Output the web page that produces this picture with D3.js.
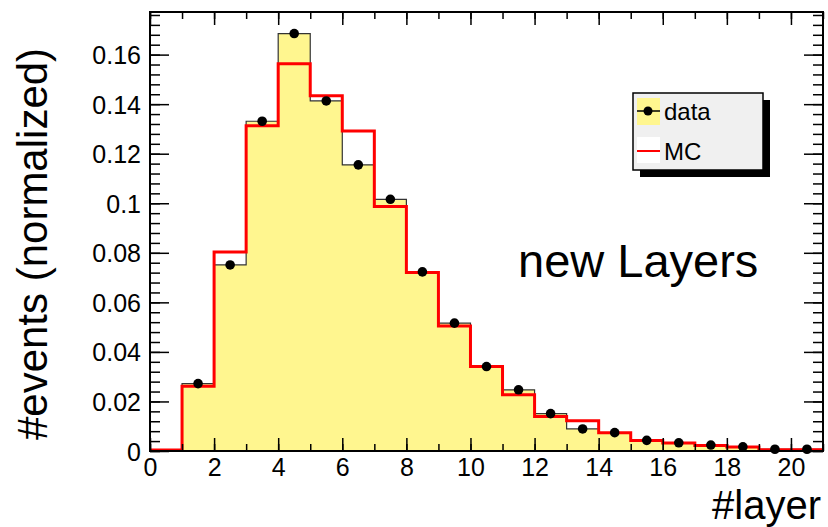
<!DOCTYPE html>
<html>
<head>
<meta charset="utf-8">
<script src="https://cdn.jsdelivr.net/npm/d3@7"></script>
<style>
  body { margin: 0; background: #fff; }
  svg { font-family: "Liberation Sans", Arial, sans-serif; }
</style>
</head>
<body>
<svg id="canvas" width="828" height="527"></svg>
<script>
// bins of width 1 from 0 to 21
let binEdges = d3.range(0, 22);
let dataValues = [0, 0.0272, 0.0751, 0.1331, 0.1685, 0.1413, 0.1155, 0.1016, 0.0723,
  0.0516, 0.0341, 0.0247, 0.0151, 0.0089, 0.0074, 0.0043, 0.0033, 0.0024, 0.0017, 0.0007, 0.0007];
let mcValues = [0.0004, 0.0261, 0.0803, 0.1313, 0.1563, 0.1434, 0.1292, 0.0987, 0.0721,
  0.0505, 0.0341, 0.0227, 0.0139, 0.0122, 0.0074, 0.0042, 0.0032, 0.0022, 0.0016, 0.0005, 0.0005];
let xTickValues = [0, 2, 4, 6, 8, 10, 12, 14, 16, 18, 20];
let yTickValues = [0, 0.02, 0.04, 0.06, 0.08, 0.1, 0.12, 0.14, 0.16];
let yTickLabels = ["0", "0.02", "0.04", "0.06", "0.08", "0.1", "0.12", "0.14", "0.16"];

let svg = d3.select("#canvas");

let padLeft = 150, padRight = 823, padTop = 12, padBottom = 451;

let x = d3.scaleLinear().domain([0, 21]).range([padLeft, padRight]);
let y = d3.scaleLinear().domain([0, 0.1772]).range([padBottom, padTop]);

// step points: one per bin start, plus the closing edge
let stepPoints = (values) => {
  let pts = values.map((v, i) => [binEdges[i], v]);
  pts.push([binEdges[binEdges.length - 1], values[values.length - 1]]);
  return pts;
};

let area = d3.area()
  .x(d => x(d[0]))
  .y0(y(0))
  .y1(d => y(d[1]))
  .curve(d3.curveStepAfter);

let line = d3.line()
  .x(d => x(d[0]))
  .y(d => y(d[1]))
  .curve(d3.curveStepAfter);

// data histogram filled
svg.append("path")
  .attr("d", area(stepPoints(dataValues)))
  .attr("fill", "#fff68f")
  .attr("stroke", "none");

svg.append("path")
  .attr("d", line(stepPoints(dataValues)))
  .attr("fill", "none")
  .attr("stroke", "#333")
  .attr("stroke-width", 1.2);

// MC histogram
svg.append("path")
  .attr("d", line(stepPoints(mcValues)))
  .attr("fill", "none")
  .attr("stroke", "#ff0000")
  .attr("stroke-width", 3);

// data points
svg.selectAll("circle.pt")
  .data(dataValues.map((v, i) => ({ c: binEdges[i] + 0.5, v: v })).filter(d => d.v > 0))
  .enter()
  .append("circle")
  .attr("class", "pt")
  .attr("cx", d => x(d.c))
  .attr("cy", d => y(d.v))
  .attr("r", 4.8)
  .attr("fill", "#000");

// axes, ticks pointing inward
let yMinor = d3.range(0, 0.1771, 0.004);
let xMinor = d3.range(0, 22, 1);

let styleAxis = (g) => {
  g.select(".domain").remove();
  g.selectAll(".tick line").attr("stroke", "#000").attr("stroke-width", 1.5);
  g.selectAll(".tick text").attr("fill", "#000").style("font-size", "25px");
};

svg.append("g").attr("transform", `translate(${padLeft},0)`)
  .call(d3.axisLeft(y).tickValues(yMinor).tickSize(-10).tickFormat(""))
  .call(styleAxis);
svg.append("g").attr("transform", `translate(${padLeft},0)`)
  .call(d3.axisLeft(y).tickValues(yTickValues).tickSize(-19).tickPadding(9)
    .tickFormat((d, i) => yTickLabels[i]))
  .call(styleAxis)
  .selectAll(".tick text").attr("dy", "0.36em");

svg.append("g").attr("transform", `translate(${padRight},0)`)
  .call(d3.axisRight(y).tickValues(yMinor).tickSize(-10).tickFormat(""))
  .call(styleAxis);
svg.append("g").attr("transform", `translate(${padRight},0)`)
  .call(d3.axisRight(y).tickValues(yTickValues).tickSize(-19).tickFormat(""))
  .call(styleAxis);

svg.append("g").attr("transform", `translate(0,${padBottom})`)
  .call(d3.axisBottom(x).tickValues(xMinor).tickSize(-7).tickFormat(""))
  .call(styleAxis);
svg.append("g").attr("transform", `translate(0,${padBottom})`)
  .call(d3.axisBottom(x).tickValues(xTickValues).tickSize(-13).tickPadding(7)
    .tickFormat(d3.format("d")))
  .call(styleAxis);

svg.append("g").attr("transform", `translate(0,${padTop})`)
  .call(d3.axisTop(x).tickValues(xMinor).tickSize(-7).tickFormat(""))
  .call(styleAxis);
svg.append("g").attr("transform", `translate(0,${padTop})`)
  .call(d3.axisTop(x).tickValues(xTickValues).tickSize(-13).tickFormat(""))
  .call(styleAxis);

// frame
svg.append("rect")
  .attr("x", padLeft).attr("y", padTop)
  .attr("width", padRight - padLeft).attr("height", padBottom - padTop)
  .attr("fill", "none").attr("stroke", "#000").attr("stroke-width", 2);

// axis titles
svg.append("text")
  .attr("transform", "translate(47,244) rotate(-90)")
  .attr("text-anchor", "middle")
  .style("font-size", "42px")
  .text("#events (normalized)");

svg.append("text")
  .attr("x", 821).attr("y", 519)
  .attr("text-anchor", "end")
  .style("font-size", "40px")
  .text("#layer");

svg.append("text")
  .attr("x", 518).attr("y", 277)
  .style("font-size", "47px")
  .text("new Layers");

// legend
let lg = svg.append("g");
lg.append("rect").attr("x", 640).attr("y", 100).attr("width", 130).attr("height", 77).attr("fill", "#000");
lg.append("rect").attr("x", 633).attr("y", 93).attr("width", 130).attr("height", 77)
  .attr("fill", "#f0f0f0").attr("stroke", "#000").attr("stroke-width", 1.5);
lg.append("rect").attr("x", 637).attr("y", 98).attr("width", 23).attr("height", 27).attr("fill", "#fff68f");
lg.append("line").attr("x1", 637).attr("x2", 660).attr("y1", 111).attr("y2", 111).attr("stroke", "#000").attr("stroke-width", 1.5);
lg.append("circle").attr("cx", 648).attr("cy", 111).attr("r", 4.5).attr("fill", "#000");
lg.append("text").attr("x", 664).attr("y", 120).style("font-size", "24px").text("data");
lg.append("rect").attr("x", 637).attr("y", 137).attr("width", 23).attr("height", 26).attr("fill", "#fff");
lg.append("line").attr("x1", 637).attr("x2", 660).attr("y1", 151).attr("y2", 151).attr("stroke", "#ff0000").attr("stroke-width", 2);
lg.append("text").attr("x", 664).attr("y", 160).style("font-size", "24px").text("MC");
</script>
</body>
</html>
